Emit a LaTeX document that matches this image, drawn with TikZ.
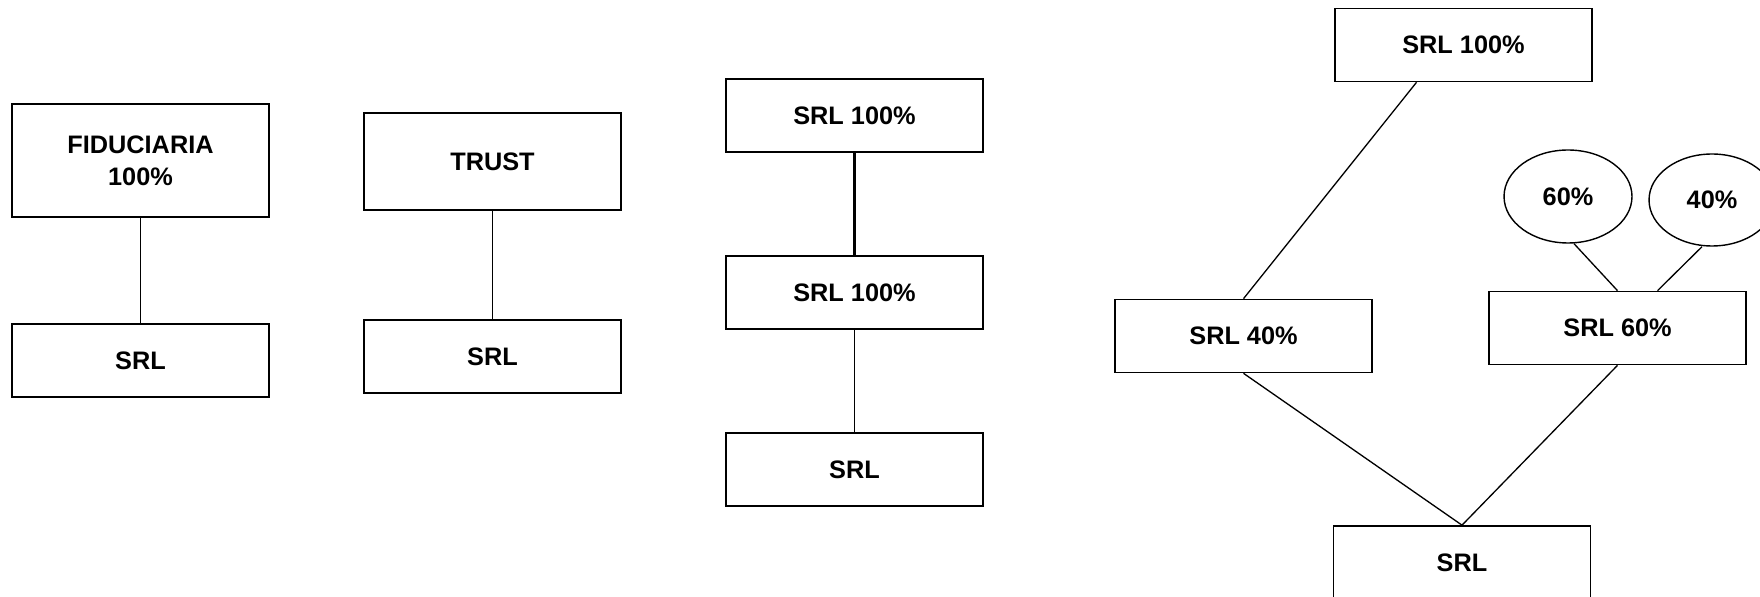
\documentclass[tikz,border=0pt]{standalone}
\usepackage{fontspec}
\setmainfont{Liberation Sans}
\usetikzlibrary{positioning}
\usetikzlibrary{shapes.geometric}
\tikzset{every node/.style={ % Text of every box
           align=center,
           font=\bfseries\fontsize{14.4}{18}\selectfont},
         company/.style={ % Sets the properties for each company box
           draw, rectangle,
           line width=0.95pt,
           inner sep=0pt,
           minimum width=5.14cm,
           minimum height=1.46cm},
         share/.style={ % Ellipses with the quotas
           draw, ellipse,
           line width=0.8pt,
           inner sep=0pt,
           minimum width=2.56cm,
           minimum height=1.86cm},
         every edge/.style={ % Sets the properties for each link
           draw,
           line width=0.75pt}}

\begin{document}
\begin{tikzpicture}[x=0.02cm, y=-0.02cm]
  \useasboundingbox (0,0) rectangle (1760,597);

  % fiduciaria
  \node [company, minimum height=2.26cm] (qfid) at (140.5,160.5) {FIDUCIARIA\\100\%};
  \node [company] (qsrlfid) at (140.5,360.5) {SRL};
  \draw (qfid.south) edge (qsrlfid.north);

  % trust
  \node [company, minimum height=1.94cm] (qtrust) at (492.5,161.5) {TRUST};
  \node [company] (qsrltrust) at (492.5,356.5) {SRL};
  \draw (qtrust.south) edge (qsrltrust.north);

  % chain of companies
  \node [company] (qtopa) at (854.5,115.5) {SRL 100\%};
  \node [company] (qmida) at (854.5,292.5) {SRL 100\%};
  \node [company] (qsrlchain) at (854.5,469.5) {SRL};
  \draw (qtopa.south) edge [line width=1.7pt] (qmida.north);
  \draw (qmida.south) edge (qsrlchain.north);

  % split ownership
  \node [company] (qtopb) at (1463.5,45) {SRL 100\%};
  \node [company] (qleft) at (1243.5,336) {SRL 40\%};
  \node [company] (qright) at (1617.5,328) {SRL 60\%};
  \node [company] (qsrlsplit) at (1462,562.5) {SRL};
  \node [share] (qsixty) at (1568,196.5) {60\%};
  \node [share, minimum width=2.52cm, minimum height=1.84cm] (qforty) at (1712,200) {40\%};

  \draw ([xshift=-0.94cm]qtopb.south) edge (qleft.north);
  \draw (qleft.south) edge (qsrlsplit.north);
  \draw (qright.south) edge (qsrlsplit.north);
  \draw ([xshift=0.12cm]qsixty.south) edge (qright.north);
  \draw ([xshift=-0.2cm]qforty.south) edge ([xshift=0.8cm]qright.north);
\end{tikzpicture}
\end{document}
